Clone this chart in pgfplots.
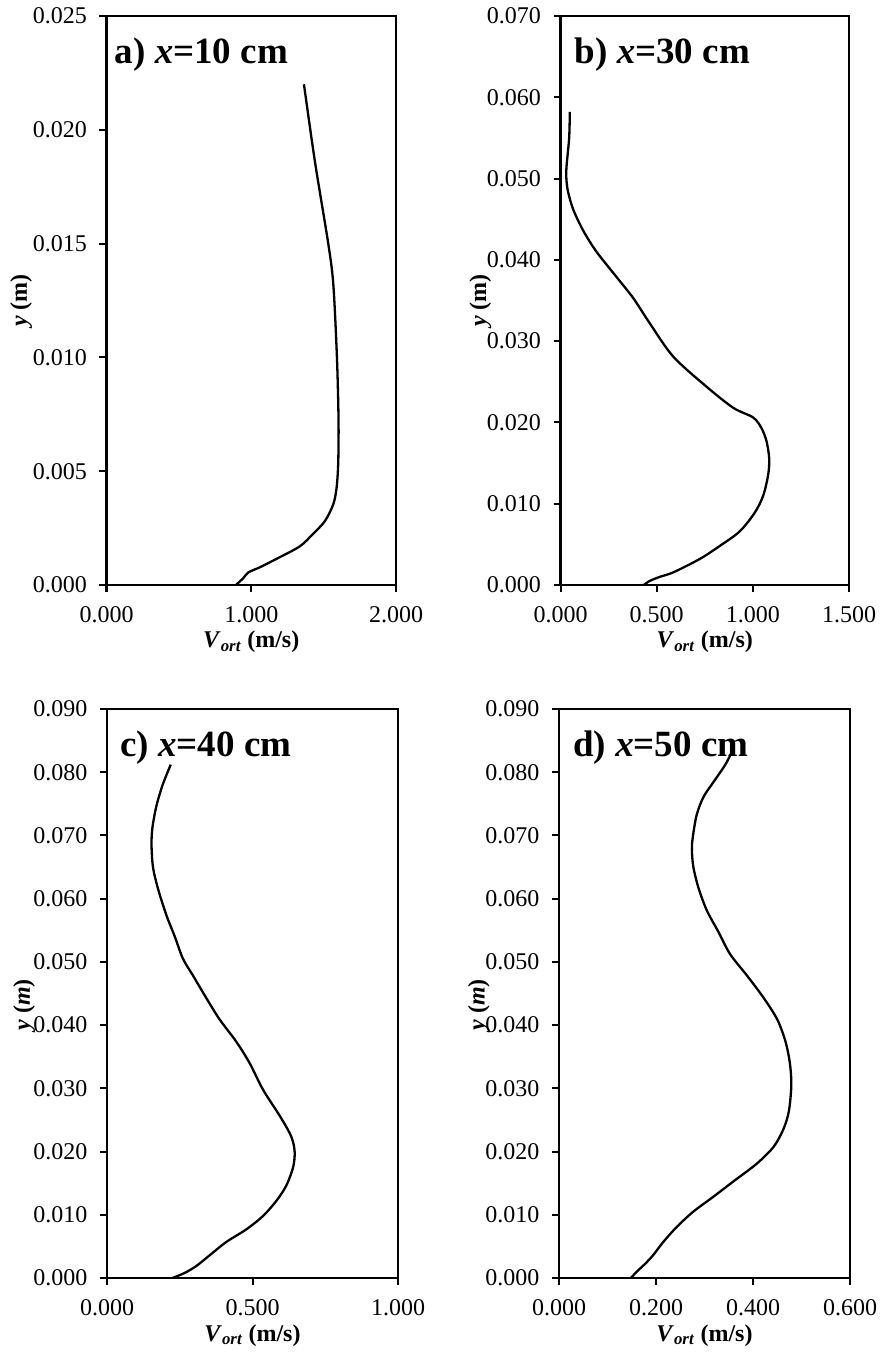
\documentclass[border=0pt]{standalone}
\usepackage{fontspec}
\setmainfont{Liberation Serif}
\usepackage{pgfplots}
\pgfplotsset{compat=1.18}
\pgfplotsset{
  panel/.style={
    scale only axis,
    anchor=south west,
    ymin=0,
    tick align=outside,
    major tick length=7pt,
    every tick/.style={line width=2pt,black},
    xtick pos=bottom, ytick pos=left,
    axis line style={line width=2.6pt},
    scaled ticks=false,
    tick label style={font=\fontsize{24}{28}\selectfont},
    xticklabel style={yshift=-11pt,/pgf/number format/.cd,fixed,fixed zerofill,precision=3,assume math mode=true},
    yticklabel style={xshift=-9pt,/pgf/number format/.cd,fixed,fixed zerofill,precision=3,assume math mode=true},
    xlabel={\textit{V}\textsubscript{\textit{ort}} (m/s)},
    xlabel style={at={(axis description cs:0.5,0)},anchor=base,yshift=-63pt,font=\fontsize{24}{28}\selectfont\bfseries},
    ylabel style={anchor=center,rotate=0,font=\fontsize{24}{28}\selectfont\bfseries},
    clip=false,
  },
  curve/.style={black,line width=2.3pt,smooth,no marks},
}
\newcommand{\paneltitle}[2]{\node[anchor=north west,inner sep=0pt,xshift=#1,yshift=-22pt,font=\fontsize{37}{40}\selectfont\bfseries] at (rel axis cs:0,1) {#2};}
\begin{document}
\begin{tikzpicture}
\path[use as bounding box] (0pt,0pt) rectangle (883pt,1354pt);

% a) x=10 cm
\begin{axis}[panel, at={(106.5pt,769pt)}, width=289.5pt, height=569pt,
  xmin=0, xmax=2, ymax=0.025, xtick={0,1,2}, ytick={0,0.005,0.010,0.015,0.020,0.025},
  ylabel={\textit{y} (m)}, ylabel style={at={(axis description cs:-0.295,0.5)}}]
\addplot[curve] coordinates {
(0.894,0.0000) (0.945,0.0003) (0.979,0.00055) (1.060,0.00078) (1.175,0.00115)
(1.336,0.0017) (1.429,0.00226) (1.509,0.00281) (1.567,0.00355) (1.590,0.0043)
(1.601,0.0054) (1.603,0.00725) (1.592,0.0100) (1.567,0.0132) (1.532,0.0150)
(1.440,0.0186) (1.364,0.0220)};
\paneltitle{8pt}{a) \textit{x}=10 cm}
\end{axis}

% b) x=30 cm
\begin{axis}[panel, at={(560.5pt,769pt)}, width=288.5pt, height=569pt,
  xmin=0, xmax=1.5, ymax=0.07, xtick={0,0.5,1,1.5}, ytick={0,0.01,0.02,0.03,0.04,0.05,0.06,0.07},
  ylabel={\textit{y} (m)}, ylabel style={at={(axis description cs:-0.278,0.5)}}]
\addplot[curve] coordinates {
(0.433,0.0000) (0.464,0.0005) (0.516,0.0010) (0.586,0.00155) (0.724,0.0032)
(0.828,0.0048) (0.932,0.0066) (1.010,0.0089) (1.054,0.0110) (1.080,0.0136)
(1.085,0.0156) (1.071,0.0177) (1.045,0.0193) (1.002,0.0206) (0.898,0.0218)
(0.759,0.0244) (0.586,0.0281) (0.464,0.0322) (0.378,0.0353) (0.291,0.0379)
(0.187,0.0410) (0.118,0.0436) (0.066,0.0462) (0.040,0.0483) (0.031,0.0498)
(0.031,0.0514) (0.045,0.0550) (0.0485,0.0582)};
\paneltitle{14pt}{b) \textit{x}=30 cm}
\end{axis}

% c) x=40 cm
\begin{axis}[panel, at={(107pt,76pt)}, width=291pt, height=569pt,
  xmin=0, xmax=1, ymax=0.09, xtick={0,0.5,1}, ytick={0,0.01,0.02,0.03,0.04,0.05,0.06,0.07,0.08,0.09},
  ylabel={\textit{y} (\textit{m})}, ylabel style={at={(axis description cs:-0.285,0.48)}}]
\addplot[curve] coordinates {
(0.225,0.0000) (0.267,0.0008) (0.307,0.0019) (0.353,0.0036) (0.410,0.0057)
(0.479,0.0077) (0.536,0.0098) (0.582,0.0122) (0.616,0.0146) (0.639,0.0174)
(0.645,0.0195) (0.641,0.0212) (0.628,0.0229) (0.593,0.0257) (0.536,0.0298)
(0.490,0.0340) (0.444,0.0374) (0.387,0.0409) (0.341,0.0443) (0.296,0.0478)
(0.261,0.0505) (0.233,0.0540) (0.204,0.0574) (0.175,0.0616) (0.158,0.0650)
(0.153,0.0685) (0.156,0.0712) (0.170,0.0747) (0.192,0.0781) (0.219,0.0812)};
\paneltitle{13pt}{c) \textit{x}=40 cm}
\end{axis}

% d) x=50 cm
\begin{axis}[panel, at={(559pt,76pt)}, width=291pt, height=569pt,
  xmin=0, xmax=0.6, ymax=0.09, xtick={0,0.2,0.4,0.6}, ytick={0,0.01,0.02,0.03,0.04,0.05,0.06,0.07,0.08,0.09},
  ylabel={\textit{y} (\textit{m})}, ylabel style={at={(axis description cs:-0.275,0.48)}}]
\addplot[curve] coordinates {
(0.148,0.0000) (0.163,0.0012) (0.177,0.0022) (0.194,0.0036) (0.215,0.0057)
(0.243,0.0081) (0.277,0.0105) (0.319,0.0129) (0.360,0.0153) (0.408,0.0181)
(0.443,0.0208) (0.463,0.0236) (0.474,0.0264) (0.479,0.0305) (0.476,0.0340)
(0.467,0.0374) (0.450,0.0409) (0.422,0.0443) (0.388,0.0478) (0.353,0.0512)
(0.329,0.0547) (0.305,0.0581) (0.288,0.0616) (0.277,0.0650) (0.274,0.0678)
(0.276,0.0698) (0.284,0.0733) (0.298,0.0761) (0.319,0.0785) (0.343,0.0812)
(0.357,0.0833)};
\paneltitle{14pt}{d) \textit{x}=50 cm}
\end{axis}
\end{tikzpicture}
\end{document}
